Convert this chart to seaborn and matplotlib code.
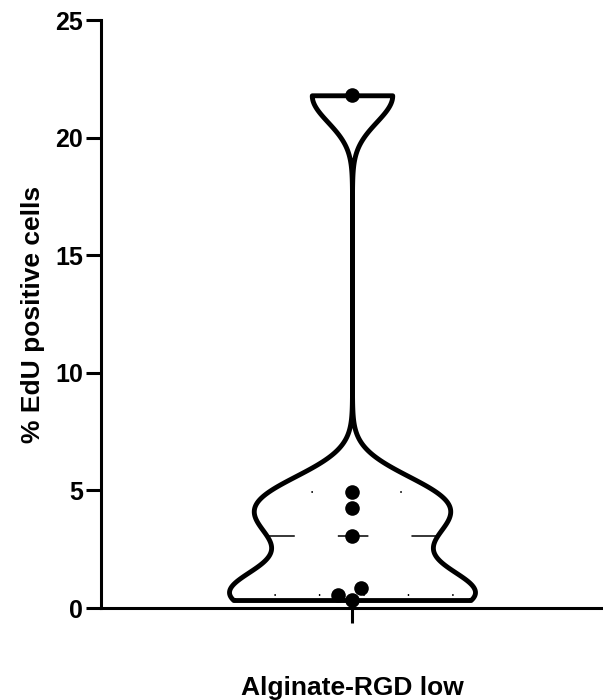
import matplotlib
matplotlib.use("Agg")
import matplotlib.pyplot as plt
import numpy as np
import pandas as pd
import seaborn as sns

# values
group_name = "Alginate-RGD low"
edu_values = [21.8, 4.92, 4.26, 3.06, 0.84, 0.55, 0.34]
y_ticks = [0, 5, 10, 15, 20, 25]


def half_width_at(poly, y):
	"""Half width of a violin polygon at height y (right side)."""
	verts = poly.get_paths()[0].vertices
	center = np.median(verts[:, 0])
	right = verts[verts[:, 0] >= center]
	right = right[np.argsort(right[:, 1])]
	return center, np.interp(y, right[:, 1], right[:, 0]) - center


def plot_violin(save_path="out.png"):
	sns.set_theme(style="ticks")
	plt.rcParams["font.family"] = ["Liberation Sans", "DejaVu Sans"]
	plt.rcParams["font.weight"] = "bold"
	plt.rcParams["lines.scale_dashes"] = False
	plt.rcParams["text.color"] = "black"
	plt.rcParams["axes.labelcolor"] = "black"
	plt.rcParams["xtick.color"] = "black"
	plt.rcParams["ytick.color"] = "black"

	df = pd.DataFrame({"group": [group_name] * len(edu_values), "edu": edu_values})

	fig = plt.figure(figsize=(6.03, 7.0), dpi=100)
	ax = fig.add_axes([0.1675, 0.1314, 0.8325, 0.84])

	sns.violinplot(
		data=df,
		x="group",
		y="edu",
		cut=0,
		bw_adjust=0.22,
		gridsize=400,
		inner=None,
		width=0.49,
		color="white",
		linecolor="black",
		linewidth=3.5,
		saturation=1,
		ax=ax,
	)
	poly = ax.collections[0]

	# quartiles the GraphPad way
	q1, med, q3 = np.percentile(edu_values, [25, 50, 75], method="weibull")
	for val, style, lw in [
		(med, (2, (22, 31)), 1.1),
		(q1, (0, (1, 31)), 1.4),
		(q3, (0, (1, 31)), 1.4),
	]:
		c, hw = half_width_at(poly, val)
		ax.plot([c - hw, c + hw], [val, val], color="black", lw=lw, linestyle=style, zorder=3)

	sns.swarmplot(data=df, x="group", y="edu", color="black", size=10.5, ax=ax, zorder=4)

	ax.set_xlim(-0.5, 0.5)
	ax.set_ylim(0, 25)
	ax.set_yticks(y_ticks)
	ax.set_xlabel("")
	ax.set_ylabel("% EdU positive cells", fontsize=19, fontweight="bold", labelpad=7)
	ax.tick_params(axis="y", labelsize=18, length=11, width=2.2, pad=2)
	ax.tick_params(axis="x", labelsize=19, length=11, width=2.2, pad=38)
	for lab in ax.get_xticklabels() + ax.get_yticklabels():
		lab.set_fontweight("bold")

	sns.despine(ax=ax)
	for side in ["left", "bottom"]:
		ax.spines[side].set_linewidth(2.2)
		ax.spines[side].set_color("black")

	fig.savefig(save_path, dpi=100)
	plt.close(fig)


if __name__ == "__main__":
	plot_violin()
